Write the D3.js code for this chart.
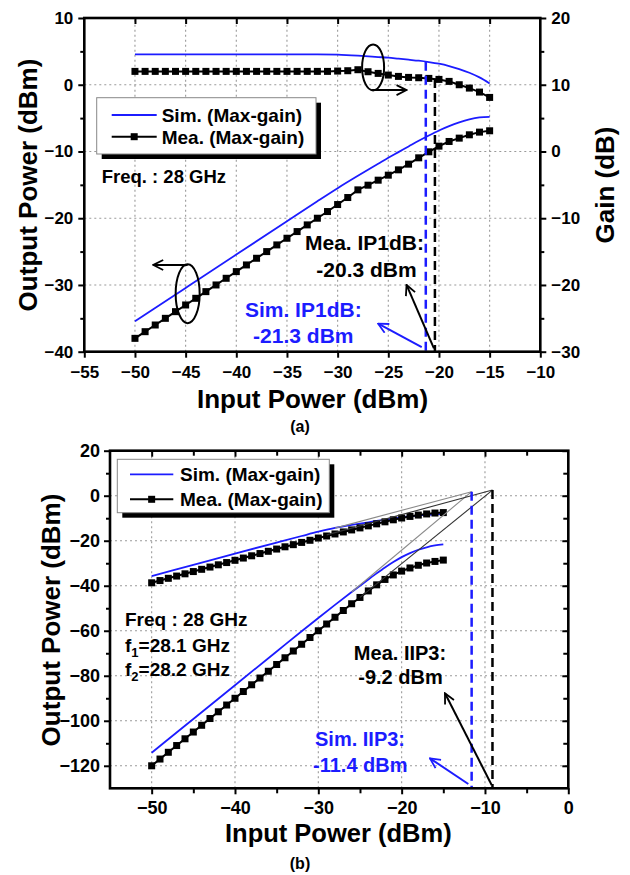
<!DOCTYPE html>
<html>
<head>
<meta charset="utf-8">
<script src="https://cdn.jsdelivr.net/npm/d3@7"></script>
<style>
body { margin: 0; background: #fff; }
text { font-family: Arial, "Liberation Sans", sans-serif; font-weight: bold; }
</style>
</head>
<body>
<svg id="fig" width="630" height="875"></svg>
<script>
// ---- data (a): P1dB, input power sweep -50..-15 dBm ----
const pinMea = [-50,-49,-48,-47,-46,-45,-44,-43,-42,-41,-40,-39,-38,-37,-36,-35,-34,-33,-32,-31,
                -30,-29,-28,-27,-26,-25,-24,-23,-22,-21,-20,-19,-18,-17,-16,-15]
const pinSim = [-50,-45,-40,-35,-32,-30,-28,-26,-25,-24,-23,-22,-21,-20,-19,-18,-17,-16,-15]

const gainMeaA = [12,12,12,12,12,12,12,12,12,12,12,12,12,12,12,12,12,12,12,12,
                  12.05,12.1,12.25,11.95,11.7,11.45,11.25,11.1,11.05,10.95,10.8,10.5,10.0,9.5,8.9,8.1]
const poutMeaA = [-38,-37,-36,-35,-34,-33,-32,-31,-30,-29,-28,-27,-26,-25,-24,-23,-22,-21,-20,-19,
                  -17.95,-16.9,-15.75,-15.05,-14.3,-13.55,-12.75,-11.9,-10.95,-10.05,-9.2,-8.5,-8.0,-7.5,-7.1,-6.9]
const gainSimA = [14.55,14.55,14.55,14.55,14.55,14.5,14.35,14.15,14.05,13.9,13.75,13.6,13.4,13.15,12.8,12.35,11.8,11.1,10.2]
const poutSimA = [-35.45,-30.45,-25.45,-20.45,-17.45,-15.5,-13.65,-11.85,-10.95,-10.1,-9.25,-8.4,-7.6,-6.85,-6.2,-5.65,-5.2,-4.9,-4.8]

const ip1Sim = -21.3
const ip1Mea = -20.4

// ---- data (b): two-tone IIP3 ----
const fundMeaB = [-38.7,-37.7,-36.7,-35.7,-34.7,-33.7,-32.7,-31.7,-30.7,-29.7,-28.7,-27.7,-26.7,-25.7,-24.7,-23.7,-22.7,-21.75,-20.75,-19.8,
                  -18.8,-17.9,-17.0,-16.1,-15.2,-14.3,-13.4,-12.5,-11.6,-10.7,-9.9,-9.2,-8.6,-8.1,-7.7,-7.5]
const im3MeaB = [-120,-117,-114,-111,-108,-105,-102,-99,-96,-93,-90,-87,-84,-81,-78,-75,-72,-69,-66,-63,
                 -60,-57,-54,-51,-48,-45.2,-42.3,-39.6,-37.2,-35.2,-33.5,-32.1,-30.9,-29.9,-29.2,-28.6]
const fundSimB = [-35.7,-30.7,-25.7,-20.8,-17.9,-16.0,-14.3,-13.0,-12.4,-11.8,-11.2,-10.7,-10.1,-9.6,-9.2,-8.8,-8.5,-8.3,-8.1]
const im3SimB = [-114.2,-99.2,-84.2,-69.2,-60.2,-54.3,-48.5,-42.8,-40.0,-37.2,-34.5,-31.9,-29.5,-27.3,-25.5,-24.0,-22.9,-22.1,-21.6]

const iip3Sim = [-11.6, 1.8]
const iip3Mea = [-9.1, 2.5]
// extrapolation lines (start point on curve -> intercept)
const extrapSim = [[[-28, -14.4], iip3Sim], [[-26, -42.8], iip3Sim]]
const extrapMea = [[[-29, -17.4], iip3Mea], [[-25, -45.2], iip3Mea]]

// ---- ticks ----
const xTicksA = [-55,-50,-45,-40,-35,-30,-25,-20,-15,-10]
const yTicksA = [-40,-30,-20,-10,0,10]
const gTicksA = [-30,-20,-10,0,10,20]
const xTicksB = [-50,-40,-30,-20,-10,0]
const yTicksB = [-120,-100,-80,-60,-40,-20,0,20]

const legendLabels = ["Sim. (Max-gain)", "Mea. (Max-gain)"]

const BLUE = "#1c1cff"
const svg = d3.select("#fig")
svg.append("rect").attr("width", 630).attr("height", 875).attr("fill", "#fff")

const defs = svg.append("defs")
function arrowMarker(id, color) {
  defs.append("marker").attr("id", id)
    .attr("viewBox", "0 0 12 12").attr("refX", 11).attr("refY", 6)
    .attr("markerWidth", 12).attr("markerHeight", 12)
    .attr("markerUnits", "userSpaceOnUse").attr("orient", "auto")
    .append("path").attr("d", "M1,1 L11,6 L1,11")
    .attr("fill", "none").attr("stroke", color).attr("stroke-width", 1.8)
}
arrowMarker("ahK", "#000")
arrowMarker("ahB", BLUE)

function styleAxis(g, fs) {
  g.select(".domain").remove()
  g.selectAll("line").attr("stroke", "#000").attr("stroke-width", 2)
  g.selectAll("text").attr("font-size", fs).attr("fill", "#000")
    .attr("font-family", "Arial, 'Liberation Sans', sans-serif").attr("font-weight", "bold")
}
function addAxis(axis, tx, ty, fs) {
  const g = svg.append("g").attr("transform", `translate(${tx},${ty})`).call(axis)
  styleAxis(g, fs || 17)
  return g
}
function grid(x, y, xs, ys) {
  const g = svg.append("g").attr("stroke", "#9a9a9a").attr("stroke-width", 1.1).attr("stroke-dasharray", "2,3")
  xs.forEach(v => g.append("line").attr("x1", x(v)).attr("x2", x(v)).attr("y1", y.range()[0]).attr("y2", y.range()[1]))
  ys.forEach(v => g.append("line").attr("y1", y(v)).attr("y2", y(v)).attr("x1", x.range()[0]).attr("x2", x.range()[1]))
}
function simLine(x, y, xs, ys) {
  svg.append("path").datum(xs.map((v, i) => [v, ys[i]]))
    .attr("fill", "none").attr("stroke", BLUE).attr("stroke-width", 1.8)
    .attr("d", d3.line().x(d => x(d[0])).y(d => y(d[1])).curve(d3.curveMonotoneX))
}
function meaLine(x, y, xs, ys) {
  const pts = xs.map((v, i) => [v, ys[i]])
  svg.append("path").datum(pts)
    .attr("fill", "none").attr("stroke", "#000").attr("stroke-width", 2)
    .attr("d", d3.line().x(d => x(d[0])).y(d => y(d[1])))
  svg.append("g").selectAll("rect").data(pts).join("rect")
    .attr("x", d => x(d[0]) - 3.5).attr("y", d => y(d[1]) - 3.5)
    .attr("width", 7).attr("height", 7).attr("fill", "#000")
}
function arrow(x, y, from, to, color, id) {
  svg.append("line").attr("x1", x(from[0])).attr("y1", y(from[1]))
    .attr("x2", x(to[0])).attr("y2", y(to[1]))
    .attr("stroke", color).attr("stroke-width", 2).attr("marker-end", `url(#${id})`)
}
function label(txt, x, y, fs, color, anchor) {
  return svg.append("text").attr("x", x).attr("y", y).attr("font-size", fs)
    .attr("fill", color || "#000").attr("text-anchor", anchor || "start").text(txt)
}
function legend(bx, by, bw, bh, lx1, lx2, ty1, ty2, tx) {
  svg.append("rect").attr("x", bx + 5).attr("y", by + 5).attr("width", bw).attr("height", bh).attr("fill", "#000")
  svg.append("rect").attr("x", bx).attr("y", by).attr("width", bw).attr("height", bh)
    .attr("fill", "#fff").attr("stroke", "#888").attr("stroke-width", 1)
  svg.append("line").attr("x1", lx1).attr("x2", lx2).attr("y1", ty1).attr("y2", ty1).attr("stroke", BLUE).attr("stroke-width", 1.8)
  svg.append("line").attr("x1", lx1).attr("x2", lx2).attr("y1", ty2).attr("y2", ty2).attr("stroke", "#000").attr("stroke-width", 2)
  svg.append("rect").attr("x", (lx1 + lx2) / 2 - 3.5).attr("y", ty2 - 3.5).attr("width", 7).attr("height", 7)
  label(legendLabels[0], tx, ty1 + 6.8, 19)
  label(legendLabels[1], tx, ty2 + 6.8, 19)
}

// =================== (a) ===================
const xA = d3.scaleLinear().domain([-55, -10]).range([84.3, 540.3])
const yA = d3.scaleLinear().domain([-40, 10]).range([351.7, 18])
const yG = d3.scaleLinear().domain([-30, 20]).range([351.7, 18])

grid(xA, yA, [-50,-45,-40,-35,-30,-25,-20,-15], [-30,-20,-10,0])

simLine(xA, yG, pinSim, gainSimA)
meaLine(xA, yG, pinMea, gainMeaA)
simLine(xA, yA, pinSim, poutSimA)
meaLine(xA, yA, pinMea, poutMeaA)

// IP1dB markers
const gSimAt = d3.scaleLinear().domain(pinSim).range(gainSimA)(ip1Sim)
const gMeaAt = d3.scaleLinear().domain(pinMea).range(gainMeaA)(ip1Mea)
svg.append("line").attr("x1", xA(ip1Sim)).attr("x2", xA(ip1Sim)).attr("y1", yG(gSimAt)).attr("y2", yG(-30))
  .attr("stroke", BLUE).attr("stroke-width", 2.5).attr("stroke-dasharray", "9,5")
svg.append("line").attr("x1", xA(ip1Mea)).attr("x2", xA(ip1Mea)).attr("y1", yG(gMeaAt)).attr("y2", yG(-30))
  .attr("stroke", "#000").attr("stroke-width", 2.5).attr("stroke-dasharray", "9,5")

// frame + axes
svg.append("rect").attr("x", 84.3).attr("y", 18).attr("width", 456).attr("height", 333.7)
  .attr("fill", "none").attr("stroke", "#000").attr("stroke-width", 2.6)
addAxis(d3.axisBottom(xA).tickValues(xTicksA).tickSize(6).tickPadding(8).tickSizeOuter(0), 0, 351.7)
addAxis(d3.axisTop(xA).tickValues([-50,-45,-40,-35,-30,-25,-20,-15]).tickSize(-6).tickFormat("").tickSizeOuter(0), 0, 18)
addAxis(d3.axisLeft(yA).tickValues(yTicksA).tickSize(6).tickPadding(5).tickFormat(d3.format("d")).tickSizeOuter(0), 84.3, 0)
addAxis(d3.axisLeft(yA).tickValues([-35,-25,-15,-5,5]).tickSize(4).tickFormat("").tickSizeOuter(0), 84.3, 0)
addAxis(d3.axisRight(yG).tickValues(gTicksA).tickSize(6).tickPadding(5).tickFormat(d3.format("d")).tickSizeOuter(0), 540.3, 0)
addAxis(d3.axisRight(yG).tickValues([-25,-15,-5,5,15]).tickSize(4).tickFormat("").tickSizeOuter(0), 540.3, 0)

// axis titles
svg.append("text").attr("transform", "translate(28,185) rotate(-90)").attr("dy", "0.35em")
  .attr("text-anchor", "middle").attr("font-size", 26).text("Output Power (dBm)")
svg.append("text").attr("transform", "translate(605,185) rotate(-90)").attr("dy", "0.35em")
  .attr("text-anchor", "middle").attr("font-size", 26).text("Gain (dB)")
label("Input Power (dBm)", 312.5, 408, 26, "#000", "middle")
label("(a)", 300, 432, 16, "#000", "middle")

legend(96.7, 97.7, 219.3, 56.3, 111.7, 156.7, 115, 136.7, 161.7)
label("Freq. : 28 GHz", 101.7, 182.5, 18.5)

// ellipses with direction arrows
svg.append("ellipse").attr("cx", xA(-26.5)).attr("cy", yG(12.6)).attr("rx", 11).attr("ry", 23)
  .attr("fill", "none").attr("stroke", "#000").attr("stroke-width", 2)
arrow(xA, yG, [-26.6, 9.2], [-23.2, 9.2], "#000", "ahK")
svg.append("ellipse").attr("cx", xA(-44.8)).attr("cy", yA(-31.3)).attr("rx", 12).attr("ry", 29.5)
  .attr("fill", "none").attr("stroke", "#000").attr("stroke-width", 2)
arrow(xA, yA, [-44.8, -27.0], [-48.2, -27.0], "#000", "ahK")

// annotations
label("Mea. IP1dB:", 364.5, 250, 21, "#000", "middle")
label("-20.3 dBm", 366.5, 276.7, 21, "#000", "middle")
label("Sim. IP1dB:", 303.3, 316.7, 21, BLUE, "middle")
label("-21.3 dBm", 303.3, 343, 21, BLUE, "middle")
arrow(xA, yA, [-20.5, -39.5], [-23.2, -30.0], "#000", "ahK")
arrow(xA, yA, [-21.7, -39.3], [-26.0, -35.8], BLUE, "ahB")

// =================== (b) ===================
const xB = d3.scaleLinear().domain([-55, 0]).range([110, 568.3])
const yB = d3.scaleLinear().domain([-130, 20]).range([788.3, 450.7])

grid(xB, yB, [-50,-40,-30,-20,-10], [-120,-100,-80,-60,-40,-20,0])

simLine(xB, yB, pinSim, fundSimB)
meaLine(xB, yB, pinMea, fundMeaB)
simLine(xB, yB, pinSim, im3SimB)
meaLine(xB, yB, pinMea, im3MeaB)

extrapSim.forEach(s => svg.append("line")
  .attr("x1", xB(s[0][0])).attr("y1", yB(s[0][1])).attr("x2", xB(s[1][0])).attr("y2", yB(s[1][1]))
  .attr("stroke", "#8a8a8a").attr("stroke-width", 1.1))
extrapMea.forEach(s => svg.append("line")
  .attr("x1", xB(s[0][0])).attr("y1", yB(s[0][1])).attr("x2", xB(s[1][0])).attr("y2", yB(s[1][1]))
  .attr("stroke", "#333").attr("stroke-width", 1.1))

svg.append("line").attr("x1", xB(iip3Sim[0])).attr("x2", xB(iip3Sim[0])).attr("y1", yB(iip3Sim[1])).attr("y2", yB(-130))
  .attr("stroke", BLUE).attr("stroke-width", 2.5).attr("stroke-dasharray", "9,5")
svg.append("line").attr("x1", xB(iip3Mea[0])).attr("x2", xB(iip3Mea[0])).attr("y1", yB(iip3Mea[1])).attr("y2", yB(-130))
  .attr("stroke", "#000").attr("stroke-width", 2.5).attr("stroke-dasharray", "9,5")

svg.append("rect").attr("x", 110).attr("y", 450.7).attr("width", 458.3).attr("height", 337.6)
  .attr("fill", "none").attr("stroke", "#000").attr("stroke-width", 2.6)
addAxis(d3.axisBottom(xB).tickValues(xTicksB).tickSize(6).tickPadding(7).tickSizeOuter(0), 0, 788.3, 18)
addAxis(d3.axisBottom(xB).tickValues([-45,-35,-25,-15,-5]).tickSize(5).tickFormat("").tickSizeOuter(0), 0, 788.3)
addAxis(d3.axisTop(xB).tickValues([-50,-40,-30,-20,-10]).tickSize(-6).tickFormat("").tickSizeOuter(0), 0, 450.7)
addAxis(d3.axisTop(xB).tickValues([-45,-35,-25,-15,-5]).tickSize(-5).tickFormat("").tickSizeOuter(0), 0, 450.7)
addAxis(d3.axisLeft(yB).tickValues(yTicksB).tickSize(6).tickPadding(4).tickFormat(d3.format("d")).tickSizeOuter(0), 110, 0, 18)
addAxis(d3.axisLeft(yB).tickValues([-110,-90,-70,-50,-30,-10,10]).tickSize(4).tickFormat("").tickSizeOuter(0), 110, 0)
addAxis(d3.axisRight(yB).tickValues(yTicksB).tickSize(-6).tickFormat("").tickSizeOuter(0), 568.3, 0)
addAxis(d3.axisRight(yB).tickValues([-110,-90,-70,-50,-30,-10,10]).tickSize(-5).tickFormat("").tickSizeOuter(0), 568.3, 0)

svg.append("text").attr("transform", "translate(51,620) rotate(-90)").attr("dy", "0.35em")
  .attr("text-anchor", "middle").attr("font-size", 26).text("Output Power (dBm)")
label("Input Power (dBm)", 338.3, 842, 25.5, "#000", "middle")
label("(b)", 300, 869, 16, "#000", "middle")

legend(117.3, 459.3, 212, 53.4, 130, 173.3, 474.3, 499.3, 180)

label("Freq : 28 GHz", 125, 626, 19)
const f1 = label("f", 125, 651.6, 19)
f1.append("tspan").attr("font-size", 13).attr("dy", 5).text("1")
f1.append("tspan").attr("dy", -5).text("=28.1 GHz")
const f2 = label("f", 125, 676, 19)
f2.append("tspan").attr("font-size", 13).attr("dy", 5).text("2")
f2.append("tspan").attr("dy", -5).text("=28.2 GHz")

label("Mea. IIP3:", 400, 660, 20, "#000", "middle")
label("-9.2 dBm", 400.5, 684, 20, "#000", "middle")
label("Sim. IIP3:", 360, 746, 20, BLUE, "middle")
label("-11.4 dBm", 360.3, 771.7, 20, BLUE, "middle")
arrow(xB, yB, [-9.2, -128.5], [-14.8, -87.8], "#000", "ahK")
arrow(xB, yB, [-12.0, -128.1], [-16.6, -116.7], BLUE, "ahB")
</script>
</body>
</html>
